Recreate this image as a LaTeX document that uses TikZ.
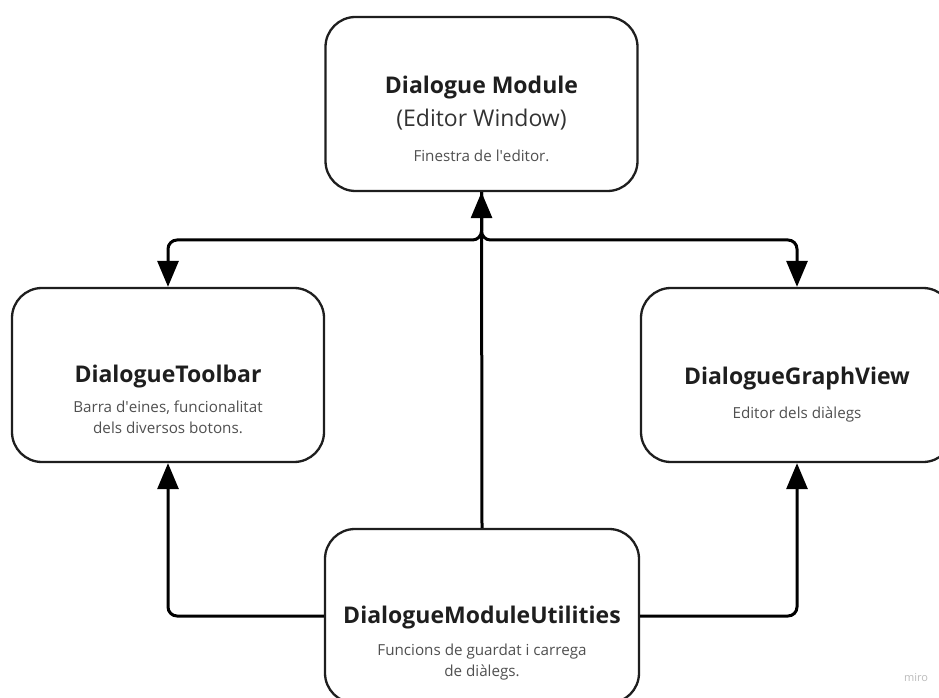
\documentclass[tikz,border=0pt]{standalone}
\usepackage{fontspec}
\setmainfont{Open Sans}
\usetikzlibrary{arrows.meta}
\definecolor{ink}{HTML}{1E1E1E}
\definecolor{subtxt}{HTML}{505050}
\definecolor{midtxt}{HTML}{333333}
\definecolor{mark}{HTML}{BBBBBB}
\tikzset{
  x=1pt, y=1pt,
  box/.style={draw=ink, line width=2.3pt, rounded corners=30pt, fill=white,
    minimum width=312pt, minimum height=174pt, inner sep=0pt},
  title/.style={text=ink, font=\fontsize{23}{27}\selectfont\bfseries, inner sep=0pt, anchor=base},
  subtitle/.style={text=midtxt, font=\fontsize{23}{27}\selectfont, inner sep=0pt, anchor=base},
  desc/.style={text=subtxt, font=\fontsize{15.2}{20.5}\selectfont, inner sep=0pt, align=center, anchor=base},
  link/.style={draw=black, line width=3pt, rounded corners=9pt},
  tip/.style={-{Triangle[width=21pt,length=26pt]}}
}
\begin{document}
\begin{tikzpicture}
\useasboundingbox (0,0) rectangle (939,697);
\clip (0,0) rectangle (939,697);

% boxes
\node[box] (module) at (481.5,593) {};
\node[box] (toolbar) at (168,322) {};
\node[box] (graph) at (797,322) {};
\node[box, minimum width=314pt] (utils) at (482,81) {};

% texts (multi-line texts are placed by the baseline of their last line)
\node[title] (moduleT) at (481.5,603) {Dialogue Module};
\node[subtitle] (moduleS) at (481.5,570) {(Editor Window)};
\node[desc] (moduleD) at (481.5,535) {Finestra de l\textquotesingle editor.};

\node[title] (toolbarT) at (168,315) {DialogueToolbar};
\node[desc] (toolbarD) at (168,264) {Barra d\textquotesingle eines, funcionalitat\\dels diversos botons.};

\node[title] (graphT) at (797,313) {DialogueGraphView};
\node[desc] (graphD) at (797,279) {Editor dels diàlegs};

\node[title] (utilsT) at (482,74) {DialogueModuleUtilities};
\node[desc] (utilsD) at (482,21) {Funcions de guardat i carrega\\de diàlegs.};

\node[text=mark, font=\fontsize{11}{13}\selectfont, anchor=base] (miro) at (916,16) {miro};

% connectors from the editor window to its panels
\coordinate (split) at (module.south |- 0,457);
\draw[link, tip] (module.south) -- (split) -| (toolbar.north);
\draw[link, tip] (module.south) -- (split) -| (graph.north);

% utilities feed every part
\draw[link, tip] (utils.north) -- (module.south);
\draw[link, tip] (utils.west) -| (toolbar.south);
\draw[link, tip] (utils.east) -| (graph.south);
\end{tikzpicture}
\end{document}
